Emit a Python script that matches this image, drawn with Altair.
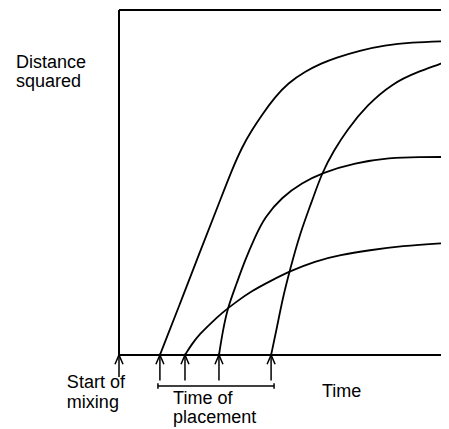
import altair as alt
import pandas as pd

# Units: time 0 = start of mixing, 100 = right edge of the original frame;
# distance squared 0 = baseline, 100 = top of frame.
c1_t = [12.4, 18.5, 24.5, 30.6, 34.2, 37.3, 40.3, 43.3, 47.3, 51.2, 56.4, 61.5, 65.5, 73.0, 80.6, 88.2, 100]
c1_d = [0, 14.9, 29.8, 44.7, 53.6, 60.3, 65.2, 69.6, 74.8, 78.8, 82.2, 84.6, 86.1, 88.3, 89.8, 90.6, 91.0]

c2_t = [20.0, 22.1, 24.5, 27.6, 31.2, 35.5, 40.3, 45.8, 51.8, 59.4, 67.0, 76.1, 85.2, 100]
c2_d = [0, 3.2, 6.1, 9.0, 12.2, 15.4, 18.6, 21.4, 24.3, 27.2, 29.0, 30.4, 31.6, 32.5]

c3_t = [30.3, 31.5, 33.0, 35.5, 38.2, 41.2, 44.2, 49.4, 55.5, 61.5, 71.5, 82.1, 91.0, 100]
c3_d = [0, 7.2, 13.9, 20.3, 27.5, 34.2, 40.0, 45.8, 49.9, 52.8, 55.7, 57.2, 57.4, 57.4]

c4_t = [46.1, 47.9, 49.7, 51.8, 54.8, 58.5, 61.5, 65.2, 69.1, 75.2, 83.0, 90.3, 98.2, 100]
c4_d = [0, 8.1, 16.8, 24.6, 35.1, 44.6, 52.8, 59.4, 65.2, 72.5, 78.8, 82.0, 84.6, 85.5]

start_time = [0]
placement_times = [12.4, 20.0, 30.3, 46.1]

label_text = ["Distance", "squared", "Start of", "mixing", "Time of", "placement", "Time"]
label_t = [-31.2, -31.2, -15.8, -15.8, 16.4, 16.4, 61.5]
label_d = [83.2, 77.7, -9.6, -15.4, -14.2, -19.7, -12.2]

X_RIGHT = 97.6  # visible right end of the frame

rows = []
for name, ts, ds in [("a", c1_t, c1_d), ("b", c2_t, c2_d), ("c", c3_t, c3_d), ("d", c4_t, c4_d)]:
    for t, d in zip(ts, ds):
        rows.append({"series": name, "t": t, "d": d})
curves = pd.DataFrame(rows)

xs = alt.Scale(domain=[0, X_RIGHT], nice=False, zero=False)
ys = alt.Scale(domain=[0, 100], nice=False, zero=False)

lines = alt.Chart(curves).mark_line(
    interpolate="basis", color="black", strokeWidth=1.8, clip=True
).encode(
    x=alt.X("t:Q", scale=xs, axis=None),
    y=alt.Y("d:Q", scale=ys, axis=None),
    detail="series:N",
)

frame = pd.DataFrame([
    {"t": 0, "t2": X_RIGHT, "d": 100, "d2": 100},   # top
    {"t": 0, "t2": 0, "d": 0, "d2": 100},           # left
    {"t": 0, "t2": X_RIGHT, "d": 0, "d2": 0},       # baseline
])
frame_rules = alt.Chart(frame).mark_rule(color="black", strokeWidth=2).encode(
    x=alt.X("t:Q", scale=xs, axis=None), x2="t2:Q",
    y=alt.Y("d:Q", scale=ys, axis=None), y2="d2:Q",
)

arrows = pd.DataFrame(
    [{"t": t, "d": 0, "d2": -6.4} for t in start_time]
    + [{"t": t, "d": 0, "d2": -7.4} for t in placement_times]
)
shafts = alt.Chart(arrows).mark_rule(color="black", strokeWidth=1.5).encode(
    x=alt.X("t:Q", scale=xs, axis=None),
    y=alt.Y("d:Q", scale=ys, axis=None), y2="d2:Q",
)
heads = alt.Chart(arrows).mark_point(
    shape="M -1 2.3 L 0 0 L 1 2.3", filled=False, size=64,
    color="black", strokeWidth=1.5, opacity=1,
).encode(
    x=alt.X("t:Q", scale=xs, axis=None),
    y=alt.Y("d:Q", scale=ys, axis=None),
)

bracket = pd.DataFrame([
    {"t": 11.8, "t2": 47.0, "d": -9.0, "d2": -9.0},
    {"t": 11.8, "t2": 11.8, "d": -8.2, "d2": -9.8},
    {"t": 47.0, "t2": 47.0, "d": -8.2, "d2": -9.8},
])
bracket_rules = alt.Chart(bracket).mark_rule(color="black", strokeWidth=1.5).encode(
    x=alt.X("t:Q", scale=xs, axis=None), x2="t2:Q",
    y=alt.Y("d:Q", scale=ys, axis=None), y2="d2:Q",
)

labels = pd.DataFrame({"label": label_text, "t": label_t, "d": label_d})
texts = alt.Chart(labels).mark_text(
    align="left", baseline="alphabetic", font="Liberation Sans",
    fontSize=18, color="black",
).encode(
    x=alt.X("t:Q", scale=xs, axis=None),
    y=alt.Y("d:Q", scale=ys, axis=None),
    text="label:N",
)

chart = alt.layer(frame_rules, lines, shafts, heads, bracket_rules, texts).properties(
    width=322, height=345,
    autosize=alt.AutoSizeParams(type="none"),
    padding={"left": 111, "top": 2, "right": 0, "bottom": 74},
    background="white",
).configure_view(stroke=None)

chart.save("out.html", embed_options={"renderer": "svg", "actions": False})
